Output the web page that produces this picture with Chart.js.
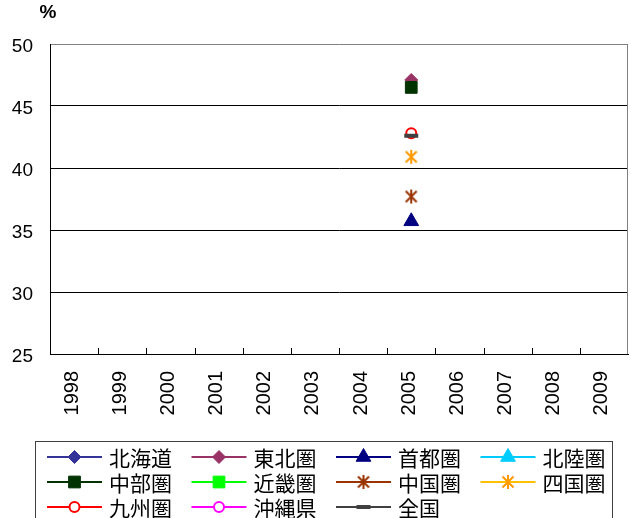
<!DOCTYPE html>
<html>
<head>
<meta charset="utf-8">
<script src="https://cdn.jsdelivr.net/npm/chart.js"></script>
<style>
  html, body { margin: 0; padding: 0; background: #fff; }
  #wrap { width: 631px; height: 518px; }
</style>
</head>
<body>
<div id="wrap"><canvas id="myChart" width="631" height="518"></canvas></div>
<script>
// 年（横軸）
const years = ['1998', '1999', '2000', '2001', '2002', '2003', '2004', '2005', '2006', '2007', '2008', '2009'];
const yTicks = [25, 30, 35, 40, 45, 50];

// 各圏域の値（%）、2005年のみデータあり
const hokkaido = [null, null, null, null, null, null, null, null, null, null, null, null];
const tohoku   = [null, null, null, null, null, null, null, 47.1, null, null, null, null];
const shuto    = [null, null, null, null, null, null, null, 35.7, null, null, null, null];
const hokuriku = [null, null, null, null, null, null, null, null, null, null, null, null];
const chubu    = [null, null, null, null, null, null, null, 46.5, null, null, null, null];
const kinki    = [null, null, null, null, null, null, null, null, null, null, null, null];
const chugoku  = [null, null, null, null, null, null, null, 37.7, null, null, null, null];
const shikoku  = [null, null, null, null, null, null, null, 40.9, null, null, null, null];
const kyushu   = [null, null, null, null, null, null, null, 42.8, null, null, null, null];
const okinawa  = [null, null, null, null, null, null, null, null, null, null, null, null];
const zenkoku  = [null, null, null, null, null, null, null, 42.6, null, null, null, null];

// アスタリスク型のマーカー
function asterisk(color) {
    const c = document.createElement('canvas');
    c.width = 16; c.height = 16;
    const g = c.getContext('2d');
    g.strokeStyle = color;
    g.lineWidth = 2;
    g.beginPath();
    g.moveTo(8, 1); g.lineTo(8, 15);
    g.moveTo(2.5, 2.5); g.lineTo(13.5, 13.5);
    g.moveTo(13.5, 2.5); g.lineTo(2.5, 13.5);
    g.stroke();
    return c;
}

let n = 0;
function series(label, data, line, marker, style, radius, fill, bw) {
    n++;
    return {
        label: label,
        data: data,
        order: -n, // 後の系列を上に描く
        borderColor: line,
        backgroundColor: line,
        borderWidth: 2,
        pointStyle: style,
        pointRadius: radius,
        pointHoverRadius: radius,
        pointBackgroundColor: fill,
        pointBorderColor: marker,
        pointBorderWidth: bw,
        spanGaps: false
    };
}

const datasets = [
    series('北海道', hokkaido, '#333399', '#333399', 'rectRot', 6.5, '#333399', 1),
    series('東北圏', tohoku, '#993366', '#993366', 'rectRot', 6.5, '#993366', 1),
    series('首都圏', shuto, '#000080', '#000080', 'triangle', 8.5, '#000080', 1),
    series('北陸圏', hokuriku, '#00ccff', '#00ccff', 'triangle', 8.5, '#00ccff', 1),
    series('中部圏', chubu, '#003300', '#003300', 'rect', 8.3, '#003300', 1),
    series('近畿圏', kinki, '#00ff00', '#00ff00', 'rect', 8.3, '#00ff00', 1),
    series('中国圏', chugoku, '#993300', '#993300', asterisk('#993300'), 7, '#993300', 2),
    series('四国圏', shikoku, '#ffc000', '#ff9900', asterisk('#ff9900'), 7, '#ff9900', 2),
    series('九州圏', kyushu, '#ff0000', '#ff0000', 'circle', 5, '#ffffff', 2),
    series('沖縄県', okinawa, '#ff00ff', '#ff00ff', 'circle', 5, '#ffffff', 2),
    series('全国', zenkoku, '#404040', '#404040', 'line', 7, '#404040', 4)
];

// 枠・目盛り・凡例を描く
const framePlugin = {
    id: 'frame',
    beforeDatasetsDraw(chart) {
        const ctx = chart.ctx;
        const a = chart.chartArea;
        const x = chart.scales.x;
        ctx.save();
        ctx.strokeStyle = '#808080';
        ctx.lineWidth = 1;
        ctx.beginPath();
        ctx.moveTo(a.right - 0.5, a.top);
        ctx.lineTo(a.right - 0.5, a.bottom);
        ctx.stroke();
        ctx.strokeStyle = '#000';
        ctx.beginPath();
        for (let i = 1; i < years.length; i++) {
            const px = Math.round(x.getPixelForValue(i - 0.5)) + 0.5;
            ctx.moveTo(px, a.bottom);
            ctx.lineTo(px, a.bottom - 6);
        }
        ctx.stroke();
        ctx.restore();
    },
    afterDraw(chart) {
        const ctx = chart.ctx;
        ctx.save();
        ctx.fillStyle = '#000';
        ctx.font = 'bold 19px "Liberation Sans", sans-serif';
        ctx.textAlign = 'center';
        ctx.textBaseline = 'middle';
        ctx.fillText('%', 48, 13);

        // 凡例
        ctx.strokeStyle = '#404040';
        ctx.lineWidth = 1;
        ctx.strokeRect(35.5, 441.5, 577, 90);
        ctx.font = '21px "Noto Sans CJK JP", sans-serif';
        ctx.textAlign = 'left';
        chart.data.datasets.forEach((ds, i) => {
            const col = i % 4;
            const row = Math.floor(i / 4);
            const x0 = 47 + col * 144.5;
            const y0 = 457 + row * 25;
            ctx.strokeStyle = ds.borderColor;
            ctx.lineWidth = 2;
            ctx.beginPath();
            ctx.moveTo(x0, y0);
            ctx.lineTo(x0 + 55, y0);
            ctx.stroke();
            ctx.fillStyle = ds.pointBackgroundColor;
            ctx.strokeStyle = ds.pointBorderColor;
            ctx.lineWidth = ds.pointBorderWidth;
            Chart.helpers.drawPoint(ctx, {
                pointStyle: ds.pointStyle,
                radius: ds.pointRadius,
                rotation: 0,
                borderWidth: ds.pointBorderWidth
            }, x0 + 27.5, y0);
            ctx.fillStyle = '#000';
            ctx.fillText(ds.label, x0 + 62, y0 + 1);
        });
        ctx.restore();
    }
};

Chart.defaults.font.family = '"Liberation Sans", "Noto Sans CJK JP", sans-serif';
Chart.defaults.color = '#000';

const ctx = document.getElementById('myChart').getContext('2d');
const myChart = new Chart(ctx, {
    type: 'line',
    data: { labels: years, datasets: datasets },
    plugins: [framePlugin],
    options: {
        responsive: false,
        animation: false,
        events: [],
        layout: { autoPadding: false, padding: { top: 44, right: 3, left: 0, bottom: 84 } },
        plugins: {
            legend: { display: false },
            tooltip: { enabled: false }
        },
        scales: {
            x: {
                offset: true,
                afterFit: (s) => { s.height = 80; s.paddingLeft = 0; s.paddingRight = 0; },
                grid: { display: false, drawTicks: false },
                border: { display: true, color: '#000', width: 1 },
                ticks: {
                    minRotation: 90,
                    maxRotation: 90,
                    padding: 17,
                    labelOffset: -2,
                    font: { size: 20 }
                }
            },
            y: {
                min: 25,
                max: 50,
                afterFit: (s) => { s.width = 50; s.paddingTop = 0; s.paddingBottom = 0; },
                afterBuildTicks: (s) => { s.ticks = yTicks.map(v => ({ value: v })); },
                grid: {
                    drawTicks: false,
                    color: (c) => (c.tick && c.tick.value === 50) ? '#808080' : '#000'
                },
                border: { display: true, color: '#000', width: 1 },
                ticks: {
                    padding: 17,
                    labelOffset: 3,
                    font: { size: 19 }
                }
            }
        }
    }
});
</script>
</body>
</html>
